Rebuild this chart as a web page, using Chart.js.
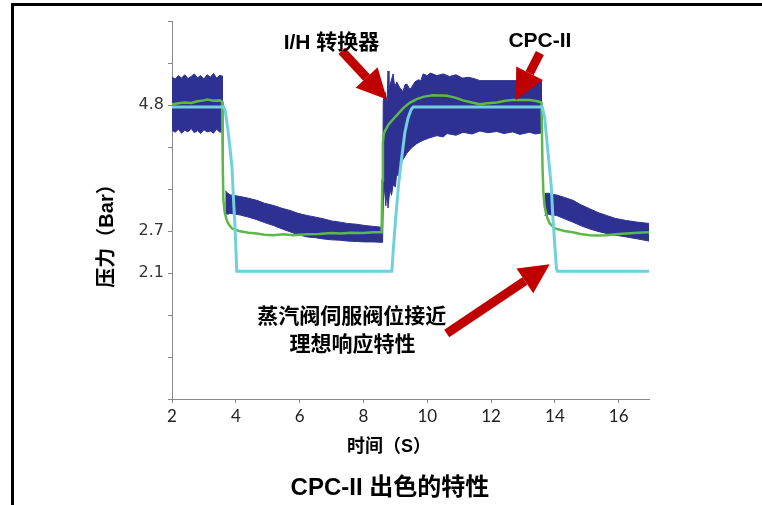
<!DOCTYPE html>
<html lang="zh">
<head>
    <meta charset="UTF-8">
    <title>CPC-II 出色的特性</title>
    <style>
        body {
            margin: 0;
            background-color: #fff;
        }

        .wrap {
            position: relative;
            width: 762px;
            height: 505px;
        }

        .frame {
            position: absolute;
            left: 11px;
            top: 3px;
            right: 0;
            bottom: 0;
            border-left: 3px solid #000;
            border-top: 3px solid #000;
            pointer-events: none;
        }
    </style>
</head>
<body>
    <div class="wrap">
        <canvas id="chart" width="762" height="505"></canvas>
        <div class="frame"></div>
    </div>

    <script src="https://cdn.jsdelivr.net/npm/chart.js"></script>
    <script>
        // y axis is drawn in tick units (0..9); only three ticks carry a pressure label
        const yTickValues = [3, 4, 7];
        const yTickText = ['2.1', '2.7', '4.8'];
        const xTickStep = 2;

        // I/H converter output: noisy band, upper and lower edges, three pieces
        const bandTop1 = [[2.0,7.66],[2.1,7.62],[2.2,7.70],[2.3,7.64],[2.4,7.72],[2.5,7.63],[2.6,7.68],[2.7,7.74],[2.8,7.65],[2.9,7.70],[3.0,7.62],[3.1,7.72],[3.2,7.66],[3.3,7.75],[3.4,7.64],[3.5,7.71],[3.6,7.68]];
        const bandBot1 = [[2.0,6.40],[2.1,6.35],[2.2,6.42],[2.3,6.33],[2.4,6.40],[2.5,6.36],[2.6,6.44],[2.7,6.34],[2.8,6.39],[2.9,6.32],[3.0,6.41],[3.1,6.36],[3.2,6.38],[3.3,6.33],[3.4,6.42],[3.5,6.35],[3.6,6.39]];

        const bandTop2 = [[3.67,4.96],[3.75,4.90],[3.82,4.86],[4.0,4.84],[4.14,4.82],[4.4,4.78],[4.66,4.73],[4.9,4.66],[5.18,4.61],[5.45,4.54],[5.7,4.49],[5.95,4.42],[6.23,4.37],[6.5,4.33],[6.75,4.29],[7.0,4.24],[7.27,4.21],[7.5,4.18],[7.79,4.16],[8.05,4.13],[8.31,4.11],[8.57,4.09],[8.6,4.10],
            [8.62,7.10],[8.68,7.30],[8.74,7.05],[8.77,7.81],[8.8,7.40],[8.86,7.55],[8.93,7.74],[8.98,7.42],[9.04,7.55],[9.15,7.40],[9.24,7.32],[9.3,7.48],[9.36,7.50],[9.45,7.38],[9.51,7.42],[9.61,7.55],[9.72,7.60],[9.8,7.58],[9.87,7.74],[10.0,7.70],[10.1,7.76],[10.3,7.70],[10.5,7.74],[10.7,7.68],[10.9,7.72],[11.1,7.64],[11.3,7.66],[11.5,7.62],[11.65,7.58],[13.6,7.58]];
        const bandBot2 = [[3.67,4.41],[3.75,4.40],[3.82,4.42],[4.0,4.40],[4.14,4.38],[4.4,4.33],[4.66,4.27],[4.9,4.20],[5.18,4.13],[5.45,4.05],[5.7,3.98],[5.95,3.91],[6.23,3.86],[6.5,3.84],[6.75,3.81],[7.0,3.79],[7.27,3.78],[7.5,3.76],[7.79,3.75],[8.05,3.74],[8.31,3.74],[8.57,3.73],[8.6,3.73],
            [8.62,4.70],[8.66,5.05],[8.7,4.60],[8.74,4.95],[8.77,4.55],[8.83,5.00],[8.88,4.85],[8.93,5.10],[9.0,5.05],[9.04,5.35],[9.1,5.30],[9.15,5.55],[9.24,5.70],[9.36,5.85],[9.51,5.98],[9.67,6.08],[9.87,6.16],[10.08,6.22],[10.3,6.27],[10.5,6.24],[10.62,6.32],[10.9,6.28],[11.12,6.35],[11.4,6.31],[11.65,6.38],[11.9,6.34],[12.18,6.37],[12.4,6.32],[12.68,6.36],[12.9,6.30],[13.2,6.35],[13.4,6.31],[13.6,6.34]];

        const bandTop3 = [[13.68,4.89],[13.8,4.90],[13.9,4.87],[14.05,4.86],[14.3,4.80],[14.57,4.73],[14.8,4.63],[15.09,4.53],[15.35,4.44],[15.62,4.37],[15.9,4.30],[16.24,4.25],[16.6,4.21],[16.95,4.18]];
        const bandBot3 = [[13.68,4.37],[13.8,4.40],[13.9,4.38],[14.05,4.37],[14.3,4.29],[14.57,4.21],[14.8,4.13],[15.09,4.05],[15.35,3.99],[15.62,3.94],[15.9,3.90],[16.24,3.86],[16.6,3.81],[16.95,3.76]];

        // CPC-II valve position (green)
        const cpcLine = [[2.0,7.02],[2.2,7.04],[2.4,7.06],[2.6,7.05],[2.8,7.09],[3.0,7.11],[3.1,7.13],[3.3,7.10],[3.5,7.11],[3.57,7.08],[3.59,5.6],[3.61,4.75],[3.65,4.45],[3.7,4.30],[3.76,4.18],[3.88,4.06],[4.1,4.00],[4.4,3.96],[4.66,3.94],[4.9,3.91],[5.17,3.90],[5.5,3.92],[5.8,3.90],[6.23,3.92],[6.6,3.93],[7.0,3.95],[7.27,3.94],[7.6,3.96],[8.0,3.95],[8.3,3.97],[8.57,3.97],
            [8.59,5.2],[8.61,6.1],[8.64,6.32],[8.7,6.42],[8.8,6.55],[8.93,6.66],[9.1,6.80],[9.24,6.92],[9.45,7.05],[9.67,7.14],[9.9,7.20],[10.18,7.23],[10.62,7.22],[10.9,7.17],[11.12,7.11],[11.4,7.06],[11.65,7.02],[11.9,7.04],[12.18,7.06],[12.45,7.10],[12.68,7.12],[13.0,7.12],[13.21,7.12],[13.45,7.09],[13.58,7.06],
            [13.61,5.6],[13.64,4.9],[13.68,4.57],[13.76,4.32],[13.84,4.18],[14.0,4.06],[14.3,4.00],[14.56,3.97],[14.8,3.93],[15.09,3.90],[15.35,3.89],[15.62,3.90],[15.9,3.92],[16.24,3.94],[16.6,3.96],[16.95,3.97]];

        // ideal response (cyan)
        const idealLine = [[2.0,6.95],[3.62,6.95],[3.67,6.86],[3.77,6.31],[3.88,5.52],[3.93,4.73],[3.98,4.01],[4.03,3.04],[8.89,3.04],[8.93,3.50],[9.0,4.20],[9.1,5.10],[9.2,5.75],[9.3,6.35],[9.4,6.70],[9.5,6.90],[9.56,6.95],[13.6,6.95],[13.68,6.71],[13.78,5.91],[13.89,5.04],[13.93,4.42],[14.0,3.62],[14.05,3.10],[14.08,3.04],[16.95,3.04]];

        // annotations, in axis units: [tailX, tailY, tipX, tipY]
        const arrows = [[7.32, 8.29, 8.74, 7.13], [13.53, 8.24, 12.78, 7.12], [10.61, 1.56, 13.84, 3.21]];
        const notes = [
            ['I/H 转换器', 7.0, 8.48],
            ['CPC-II', 13.53, 8.53],
            ['蒸汽阀伺服阀位接近', 7.63, 1.94],
            ['理想响应特性', 7.66, 1.28]
        ];

        const navy = '#2e3192';
        const cjkFont = "'Liberation Sans', 'Noto Sans CJK SC'";
        const toPts = arr => arr.map(p => ({ x: p[0], y: p[1] }));

        function bandPair(top, bot) {
            return [
                { data: toPts(top), borderColor: navy, borderWidth: 1, fill: false, order: 3 },
                { data: toPts(bot), borderColor: navy, borderWidth: 1, backgroundColor: navy, fill: '-1', order: 3 }
            ];
        }

        const annotate = {
            id: 'annotate',
            afterDatasetsDraw(chart) {
                const { ctx, scales: { x, y }, chartArea } = chart;
                ctx.save();
                ctx.fillStyle = '#c00000';
                ctx.strokeStyle = '#c00000';
                arrows.forEach(a => {
                    const x0 = x.getPixelForValue(a[0]), y0 = y.getPixelForValue(a[1]);
                    const x1 = x.getPixelForValue(a[2]), y1 = y.getPixelForValue(a[3]);
                    const ang = Math.atan2(y1 - y0, x1 - x0);
                    const headLen = 30, headW = 15;
                    const bx = x1 - headLen * Math.cos(ang), by = y1 - headLen * Math.sin(ang);
                    ctx.lineWidth = 9;
                    ctx.beginPath();
                    ctx.moveTo(x0, y0);
                    ctx.lineTo(bx, by);
                    ctx.stroke();
                    ctx.beginPath();
                    ctx.moveTo(x1, y1);
                    ctx.lineTo(bx + headW * Math.sin(ang), by - headW * Math.cos(ang));
                    ctx.lineTo(bx - headW * Math.sin(ang), by + headW * Math.cos(ang));
                    ctx.closePath();
                    ctx.fill();
                });

                ctx.fillStyle = '#000';
                ctx.textAlign = 'center';
                ctx.textBaseline = 'middle';
                ctx.font = 'bold 21px ' + cjkFont;
                notes.forEach(n => ctx.fillText(n[0], x.getPixelForValue(n[1]), y.getPixelForValue(n[2])));

                // axis titles and caption
                ctx.font = 'bold 18px ' + cjkFont;
                ctx.fillText('时间（S）', x.getPixelForValue(8.8), y.getPixelForValue(-1.14));
                ctx.font = 'bold 24px ' + cjkFont;
                ctx.fillText('CPC-II 出色的特性', x.getPixelForValue(8.83), y.getPixelForValue(-2.13));

                ctx.translate(chartArea.left - 65, y.getPixelForValue(4));
                ctx.rotate(-Math.PI / 2);
                ctx.font = 'bold 20px ' + cjkFont;
                ctx.fillText('压力（Bar）', 0, 0);
                ctx.restore();
            }
        };

        new Chart(document.getElementById('chart'), {
            type: 'line',
            data: {
                datasets: [
                    { data: toPts(idealLine), borderColor: '#70d0e0', borderWidth: 3, fill: false, order: 1 },
                    { data: toPts(cpcLine), borderColor: '#5cb946', borderWidth: 2.5, fill: false, order: 2 },
                    ...bandPair(bandTop1, bandBot1),
                    ...bandPair(bandTop2, bandBot2),
                    ...bandPair(bandTop3, bandBot3)
                ]
            },
            options: {
                responsive: false,
                animation: false,
                layout: { padding: { top: 21, right: 113, left: 0, bottom: 0 } },
                elements: { point: { radius: 0 }, line: { tension: 0 } },
                plugins: {
                    legend: { display: false },
                    tooltip: { enabled: false }
                },
                scales: {
                    x: {
                        type: 'linear',
                        min: 2,
                        max: 16.95,
                        afterFit: s => { s.height = 106; },
                        ticks: {
                            stepSize: xTickStep,
                            includeBounds: false,
                            color: '#222',
                            font: { family: 'Lato', size: 17 },
                            padding: 3,
                            maxRotation: 0
                        },
                        grid: { drawOnChartArea: false, tickLength: 4, color: '#888' },
                        border: { color: '#888' }
                    },
                    y: {
                        min: 0,
                        max: 9,
                        afterFit: s => { s.width = 172; },
                        ticks: {
                            stepSize: 1,
                            color: '#333',
                            font: { family: 'DejaVu Sans', size: 16 },
                            padding: 4,
                            callback: v => {
                                const i = yTickValues.indexOf(v);
                                return i >= 0 ? yTickText[i] : '';
                            }
                        },
                        grid: { drawOnChartArea: false, tickLength: 4, color: '#888' },
                        border: { color: '#888' }
                    }
                }
            },
            plugins: [annotate]
        });
    </script>
</body>
</html>
